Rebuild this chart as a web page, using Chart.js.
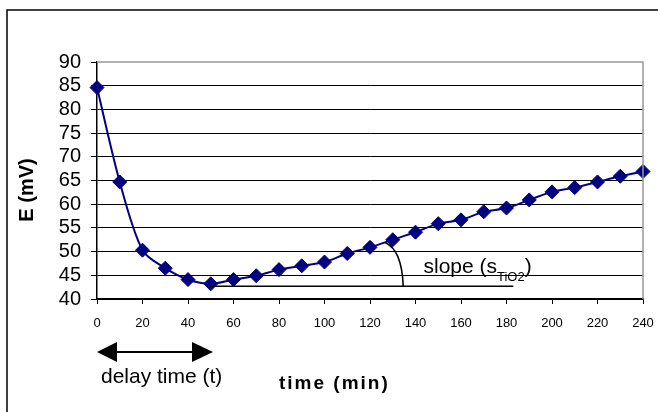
<!DOCTYPE html>
<html lang="en">
<head>
<meta charset="UTF-8">
<title>E vs time</title>
<style>
    body {
        margin: 0;
        background: white;
    }
    #chart {
        display: block;
    }
</style>
</head>
<body>
<canvas id="chart" width="658" height="412"></canvas>

<script src="https://cdn.jsdelivr.net/npm/chart.js"></script>
<script>
    // measured values (min, mV)
    const times = [0, 10, 20, 30, 40, 50, 60, 70, 80, 90, 100, 110, 120,
                   130, 140, 150, 160, 170, 180, 190, 200, 210, 220, 230, 240];
    const potential = [84.6, 64.7, 50.3, 46.5, 44.1, 43.2, 44.1, 44.9, 46.2, 47.0, 47.8, 49.6, 50.9,
                       52.5, 54.1, 55.9, 56.7, 58.4, 59.2, 60.9, 62.6, 63.5, 64.7, 65.9, 66.9];

    // annotation geometry, in data units
    const delayRange = [0, 51];          // double arrow under the axis
    const baseLine = [50, 183, 42.7];    // x from, x to, y
    const slopeArc = [[126.6, 51.9], [134, 50.4], [134.6, 42.7]];  // start, control, end
    const slopeLabelAt = [143.5, 45.4];

    function arrowHead(ctx, tipX, baseX, y, half) {
        ctx.beginPath();
        ctx.moveTo(tipX, y);
        ctx.lineTo(baseX, y - half);
        ctx.lineTo(baseX, y + half);
        ctx.closePath();
        ctx.fill();
    }

    const extras = {
        id: 'extras',
        beforeDraw(chart) {
            const ctx = chart.ctx;
            ctx.save();
            ctx.fillStyle = 'white';
            ctx.fillRect(0, 0, chart.width, chart.height);
            // outer frame (top and left only)
            ctx.strokeStyle = '#000';
            ctx.lineWidth = 1.5;
            ctx.beginPath();
            ctx.moveTo(7, chart.height);
            ctx.lineTo(7, 10);
            ctx.lineTo(chart.width, 10);
            ctx.stroke();
            ctx.restore();
        },
        afterDatasetsDraw(chart) {
            const ctx = chart.ctx;
            const x = chart.scales.x, y = chart.scales.y;
            const area = chart.chartArea;
            ctx.save();

            // grey plot frame on the right
            ctx.strokeStyle = '#999';
            ctx.lineWidth = 1.5;
            ctx.beginPath();
            ctx.moveTo(area.left, area.top);
            ctx.lineTo(area.right, area.top);
            ctx.lineTo(area.right, area.bottom);
            ctx.stroke();

            // base line and slope arc
            ctx.strokeStyle = '#000';
            ctx.lineWidth = 1.6;
            ctx.beginPath();
            ctx.moveTo(x.getPixelForValue(baseLine[0]), y.getPixelForValue(baseLine[2]));
            ctx.lineTo(x.getPixelForValue(baseLine[1]), y.getPixelForValue(baseLine[2]));
            ctx.stroke();

            ctx.beginPath();
            ctx.moveTo(x.getPixelForValue(slopeArc[0][0]), y.getPixelForValue(slopeArc[0][1]));
            ctx.quadraticCurveTo(x.getPixelForValue(slopeArc[1][0]), y.getPixelForValue(slopeArc[1][1]),
                                 x.getPixelForValue(slopeArc[2][0]), y.getPixelForValue(slopeArc[2][1]));
            ctx.stroke();

            // slope label with subscript
            ctx.fillStyle = '#000';
            ctx.textBaseline = 'alphabetic';
            ctx.textAlign = 'left';
            let tx = x.getPixelForValue(slopeLabelAt[0]);
            const ty = y.getPixelForValue(slopeLabelAt[1]);
            ctx.font = '21px "Liberation Sans", Arial, sans-serif';
            ctx.fillText('slope (s', tx, ty);
            tx += ctx.measureText('slope (s').width;
            ctx.font = '13px "Liberation Sans", Arial, sans-serif';
            ctx.fillText('TiO2', tx, ty + 8);
            tx += ctx.measureText('TiO2').width;
            ctx.font = '21px "Liberation Sans", Arial, sans-serif';
            ctx.fillText(')', tx, ty);

            // delay time arrow
            const ay = 352;
            const x0 = x.getPixelForValue(delayRange[0]);
            const x1 = x.getPixelForValue(delayRange[1]);
            ctx.lineWidth = 2;
            ctx.beginPath();
            ctx.moveTo(x0 + 10, ay);
            ctx.lineTo(x1 - 10, ay);
            ctx.stroke();
            arrowHead(ctx, x0, x0 + 20, ay, 10);
            arrowHead(ctx, x1, x1 - 21, ay, 10);

            ctx.font = '21px "Liberation Sans", Arial, sans-serif';
            ctx.fillText('delay time (t)', x0 + 4, 383);

            // axis titles
            ctx.font = 'bold 19px "Liberation Sans", Arial, sans-serif';
            ctx.letterSpacing = '2px';
            ctx.fillText('time (min)', 279, 389);
            ctx.letterSpacing = '0px';

            ctx.font = 'bold 20px "Liberation Sans", Arial, sans-serif';
            ctx.translate(33, 190);
            ctx.rotate(-Math.PI / 2);
            ctx.textAlign = 'center';
            ctx.fillText('E (mV)', 0, 0);

            ctx.restore();
        }
    };

    new Chart(document.getElementById('chart'), {
        type: 'line',
        data: {
            datasets: [{
                label: 'E',
                data: times.map((t, i) => ({ x: t, y: potential[i] })),
                borderColor: '#000080',
                backgroundColor: '#000080',
                borderWidth: 2,
                pointStyle: 'rectRot',
                pointRadius: 7,
                pointBorderWidth: 1,
                tension: 0.3,
                fill: false,
                clip: false
            }]
        },
        options: {
            responsive: false,
            animation: false,
            layout: {
                padding: { top: 62, right: 15, left: 0, bottom: 0 }
            },
            plugins: {
                legend: { display: false },
                tooltip: { enabled: false }
            },
            scales: {
                x: {
                    type: 'linear',
                    min: 0,
                    max: 240,
                    afterFit(scale) {
                        scale.height = 113;
                        scale.paddingRight = 0;
                        scale.paddingLeft = 0;
                    },
                    ticks: {
                        stepSize: 20,
                        autoSkip: false,
                        maxRotation: 0,
                        color: '#000',
                        padding: 12,
                        font: { family: '"Liberation Sans", Arial, sans-serif', size: 13 }
                    },
                    grid: {
                        drawOnChartArea: false,
                        color: '#000',
                        tickLength: 5
                    },
                    border: { color: '#000', width: 1.5 }
                },
                y: {
                    min: 40,
                    max: 90,
                    afterFit(scale) { scale.width = 97; },
                    ticks: {
                        stepSize: 5,
                        autoSkip: false,
                        color: '#000',
                        padding: 10,
                        font: { family: '"Liberation Sans", Arial, sans-serif', size: 20 }
                    },
                    grid: {
                        color: c => (c.tick && c.tick.value === 90) ? 'rgba(0,0,0,0)' : '#000',
                        tickColor: '#000',
                        tickLength: 6,
                        lineWidth: 1
                    },
                    border: { color: '#000', width: 1.5 }
                }
            }
        },
        plugins: [extras]
    });
</script>
</body>
</html>
